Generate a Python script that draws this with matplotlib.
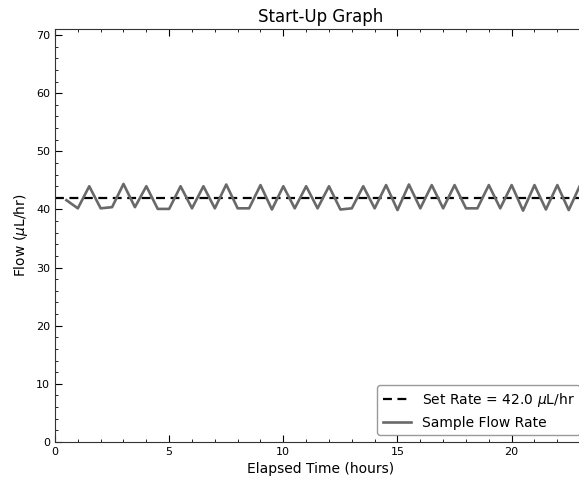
import matplotlib
matplotlib.use("Agg")
import matplotlib.pyplot as plt
from matplotlib.ticker import MultipleLocator

SET_RATE = 42.0
ELAPSED_HOURS = [0.5, 1.0, 1.5, 2.0, 2.5, 3.0, 3.5, 4.0, 4.5, 5.0, 5.5, 6.0,
                 6.5, 7.0, 7.5, 8.0, 8.5, 9.0, 9.5, 10.0, 10.5, 11.0, 11.5, 12.0,
                 12.5, 13.0, 13.5, 14.0, 14.5, 15.0, 15.5, 16.0, 16.5, 17.0, 17.5, 18.0,
                 18.5, 19.0, 19.5, 20.0, 20.5, 21.0, 21.5, 22.0, 22.5, 23.0]
SAMPLE_FLOW = [41.6, 40.2, 44.0, 40.2, 40.4, 44.4, 40.4, 44.0, 40.1, 40.1, 44.0, 40.2,
               44.0, 40.2, 44.3, 40.2, 40.2, 44.2, 40.0, 44.0, 40.2, 44.0, 40.2, 44.0,
               40.0, 40.2, 44.0, 40.2, 44.2, 39.9, 44.3, 40.2, 44.2, 40.2, 44.2, 40.2,
               40.2, 44.2, 40.2, 44.2, 39.8, 44.2, 40.0, 44.2, 39.9, 44.2]

fig = plt.figure(figsize=(5.79, 4.78), dpi=100)
# axes run past the right edge of the canvas, as in the cropped original
ax = fig.add_axes([55 / 579, 36 / 478, 532 / 579, 412.7 / 478])

ax.axhline(SET_RATE, color="black", lw=1.6, ls="--", dashes=(4, 2.5),
           label=rf"Set Rate = {SET_RATE:.1f} $\mu$L/hr")
ax.plot(ELAPSED_HOURS, SAMPLE_FLOW, color="dimgray", lw=1.9, label="Sample Flow Rate")

ax.set_xlim(0, 23.3)
ax.set_ylim(0, 71)
ax.xaxis.set_major_locator(MultipleLocator(5))
ax.xaxis.set_minor_locator(MultipleLocator(1))
ax.yaxis.set_major_locator(MultipleLocator(10))
ax.yaxis.set_minor_locator(MultipleLocator(2))
ax.tick_params(which="both", direction="in", top=True, right=True, labelsize=8)
ax.tick_params(which="major", length=5, width=0.8)
ax.tick_params(which="minor", length=2.5, width=0.6)
for spine in ax.spines.values():
    spine.set_color("#333333")

ax.set_title("Start-Up Graph", fontsize=12, pad=5)
ax.set_xlabel("Elapsed Time (hours)", fontsize=10)
ax.set_ylabel(r"Flow ($\mu$L/hr)", fontsize=10)
leg = ax.legend(loc="lower right", fontsize=10, fancybox=True)
leg.get_frame().set_edgecolor("gray")

fig.savefig("out.png", dpi=100)
